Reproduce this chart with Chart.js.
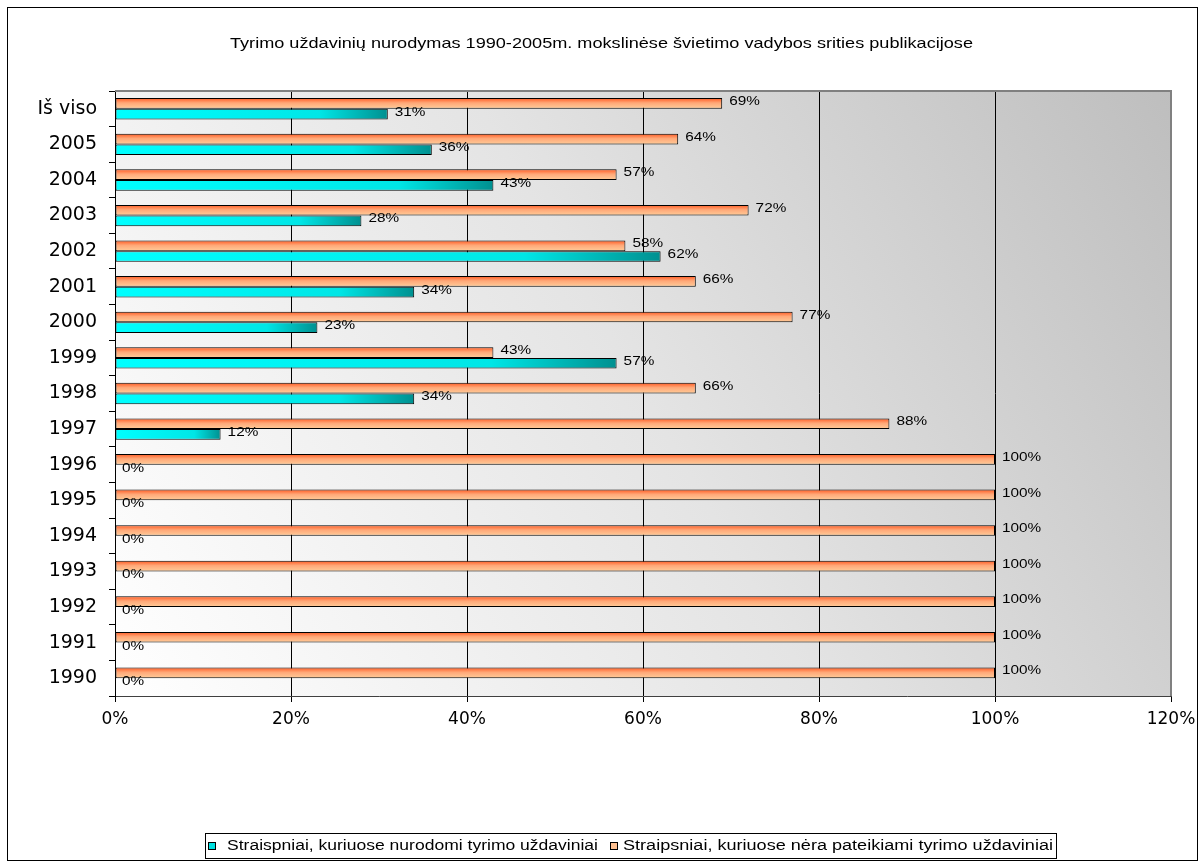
<!DOCTYPE html>
<html>
<head>
<meta charset="utf-8">
<script src="https://cdn.jsdelivr.net/npm/chart.js@4.4.0/dist/chart.umd.min.js"></script>
<style>
  html, body { margin: 0; padding: 0; background: #fff; }
  #wrap { width: 1204px; height: 867px; }
</style>
</head>
<body>
<div id="wrap"><canvas id="chart" width="1204" height="867"></canvas></div>
<script>
// data
const categories = ['Iš viso', '2005', '2004', '2003', '2002', '2001', '2000', '1999', '1998', '1997', '1996', '1995', '1994', '1993', '1992', '1991', '1990'];
const withTasks = [31, 36, 43, 28, 62, 34, 23, 57, 34, 12, 0, 0, 0, 0, 0, 0, 0];
const withoutTasks = [69, 64, 57, 72, 58, 66, 77, 43, 66, 88, 100, 100, 100, 100, 100, 100, 100];
const xTicks = [0, 20, 40, 60, 80, 100, 120];
const chartTitle = 'Tyrimo uždavinių nurodymas 1990-2005m. mokslinėse švietimo vadybos srities publikacijose';
const legendLabels = ['Straispniai, kuriuose nurodomi tyrimo uždaviniai', 'Straipsniai, kuriuose nėra pateikiami tyrimo uždaviniai'];

const CAT_PCT = 0.6;

// draw text squeezed/stretched to a given width
function fitText(ctx, text, x, y, width) {
  const w = ctx.measureText(text).width;
  ctx.save();
  ctx.translate(x, y);
  ctx.scale(width / w, 1);
  ctx.fillText(text, 0, 0);
  ctx.restore();
}

const ok = (...v) => v.every(Number.isFinite);

function orangeFill(c) {
  const chart = c.chart;
  const ys = chart.scales && chart.scales.y;
  if (c.type !== 'data' || !ys) return '#FFC08F';
  const mid = ys.getPixelForValue(c.dataIndex);
  const half = ys.height / categories.length * CAT_PCT / 2;
  if (!ok(mid, half)) return '#FFC08F';
  const g = chart.ctx.createLinearGradient(0, mid - half, 0, mid);
  g.addColorStop(0, '#FF5A22');
  g.addColorStop(0.45, '#FFA878');
  g.addColorStop(1, '#FFCC99');
  return g;
}

function cyanFill(c) {
  const chart = c.chart;
  const xs = chart.scales && chart.scales.x;
  if (c.type !== 'data' || !xs) return '#00F0F0';
  const x0 = xs.getPixelForValue(0);
  const x1 = xs.getPixelForValue(c.raw);
  if (!ok(x0, x1) || x1 - x0 < 2) return '#00F0F0';
  const g = chart.ctx.createLinearGradient(x0, 0, x1, 0);
  g.addColorStop(0, '#00FFFF');
  g.addColorStop(0.75, '#00E6E6');
  g.addColorStop(1, '#009090');
  return g;
}

const backdrop = {
  id: 'backdrop',
  beforeDraw(chart) {
    const { ctx, chartArea: a } = chart;
    ctx.save();
    ctx.fillStyle = '#fff';
    ctx.fillRect(0, 0, chart.width, chart.height);
    const g = ctx.createLinearGradient(a.left, a.bottom, a.right, a.top);
    g.addColorStop(0, '#FFFFFF');
    g.addColorStop(0.5, '#E4E4E4');
    g.addColorStop(1, '#BEBEBE');
    ctx.fillStyle = g;
    ctx.fillRect(a.left, a.top, a.right - a.left, a.bottom - a.top);
    ctx.restore();
  },
  afterDatasetsDraw(chart) {
    const { ctx } = chart;
    ctx.save();
    ctx.fillStyle = '#000';
    ctx.font = '13px "Liberation Sans", Arial, sans-serif';
    ctx.textBaseline = 'middle';
    chart.data.datasets.forEach((ds, i) => {
      chart.getDatasetMeta(i).data.forEach((bar, j) => {
        const t = ds.data[j] + '%';
        const w = ctx.measureText(t).width * 1.18;
        fitText(ctx, t, bar.x + 7, bar.y - 2, w);
      });
    });
    ctx.restore();
  },
  afterDraw(chart) {
    const { ctx, chartArea: a } = chart;
    ctx.save();
    // plot frame top / right
    ctx.strokeStyle = '#808080';
    ctx.lineWidth = 2;
    ctx.beginPath();
    ctx.moveTo(a.left, a.top);
    ctx.lineTo(a.right, a.top);
    ctx.lineTo(a.right, a.bottom);
    ctx.stroke();

    // outer border
    ctx.strokeStyle = '#000';
    ctx.lineWidth = 1;
    ctx.strokeRect(7.5, 7.5, 1190, 853);

    // title
    ctx.fillStyle = '#000';
    ctx.textBaseline = 'middle';
    ctx.font = '15px "Liberation Sans", Arial, sans-serif';
    fitText(ctx, chartTitle, 230, 44, 743);

    // legend
    ctx.strokeStyle = '#000';
    ctx.strokeRect(205.5, 833.5, 851, 25);
    const items = [
      { x: 208, tx: 227, tw: 371, fill: '#00E0E0' },
      { x: 610, tx: 623, tw: 430, fill: '#FFC090' }
    ];
    ctx.font = '14px "Liberation Sans", Arial, sans-serif';
    items.forEach((it, i) => {
      ctx.fillStyle = it.fill;
      ctx.fillRect(it.x, 842, 8, 8);
      ctx.strokeRect(it.x + 0.5, 842.5, 7, 7);
      ctx.fillStyle = '#000';
      fitText(ctx, legendLabels[i], it.tx, 846.5, it.tw);
    });
    ctx.restore();
  }
};

new Chart(document.getElementById('chart'), {
  type: 'bar',
  data: {
    labels: categories,
    datasets: [
      {
        label: legendLabels[1],
        data: withoutTasks,
        backgroundColor: orangeFill,
        borderColor: '#000',
        borderWidth: 1,
        borderSkipped: false
      },
      {
        label: legendLabels[0],
        data: withTasks,
        backgroundColor: cyanFill,
        borderColor: '#000',
        borderWidth: 1,
        borderSkipped: false
      }
    ]
  },
  options: {
    indexAxis: 'y',
    responsive: false,
    animation: false,
    layout: { padding: { left: 0, top: 91, right: 33, bottom: 131 } },
    datasets: { bar: { barPercentage: 1, categoryPercentage: CAT_PCT } },
    plugins: {
      legend: { display: false },
      title: { display: false },
      tooltip: { enabled: false }
    },
    scales: {
      x: {
        min: 0,
        max: 120,
        afterFit: s => { s.height = 40; },
        afterBuildTicks: s => { s.ticks = xTicks.map(v => ({ value: v })); },
        ticks: {
          color: '#000',
          padding: 7,
          font: { family: '"DejaVu Sans"', size: 17 },
          callback: v => v + '%'
        },
        grid: {
          color: c => (c.tick && c.tick.value === 120) ? '#808080' : '#000',
          tickColor: '#000',
          tickLength: 6,
          lineWidth: 1
        },
        border: { color: '#404040', width: 1 }
      },
      y: {
        afterFit: s => { s.width = 115; },
        ticks: {
          color: '#000',
          padding: 12,
          font: { family: '"DejaVu Sans"', size: 19 }
        },
        grid: {
          drawOnChartArea: false,
          tickColor: '#000',
          tickLength: 6
        },
        border: { color: '#000', width: 1 }
      }
    }
  },
  plugins: [backdrop]
});
</script>
</body>
</html>
